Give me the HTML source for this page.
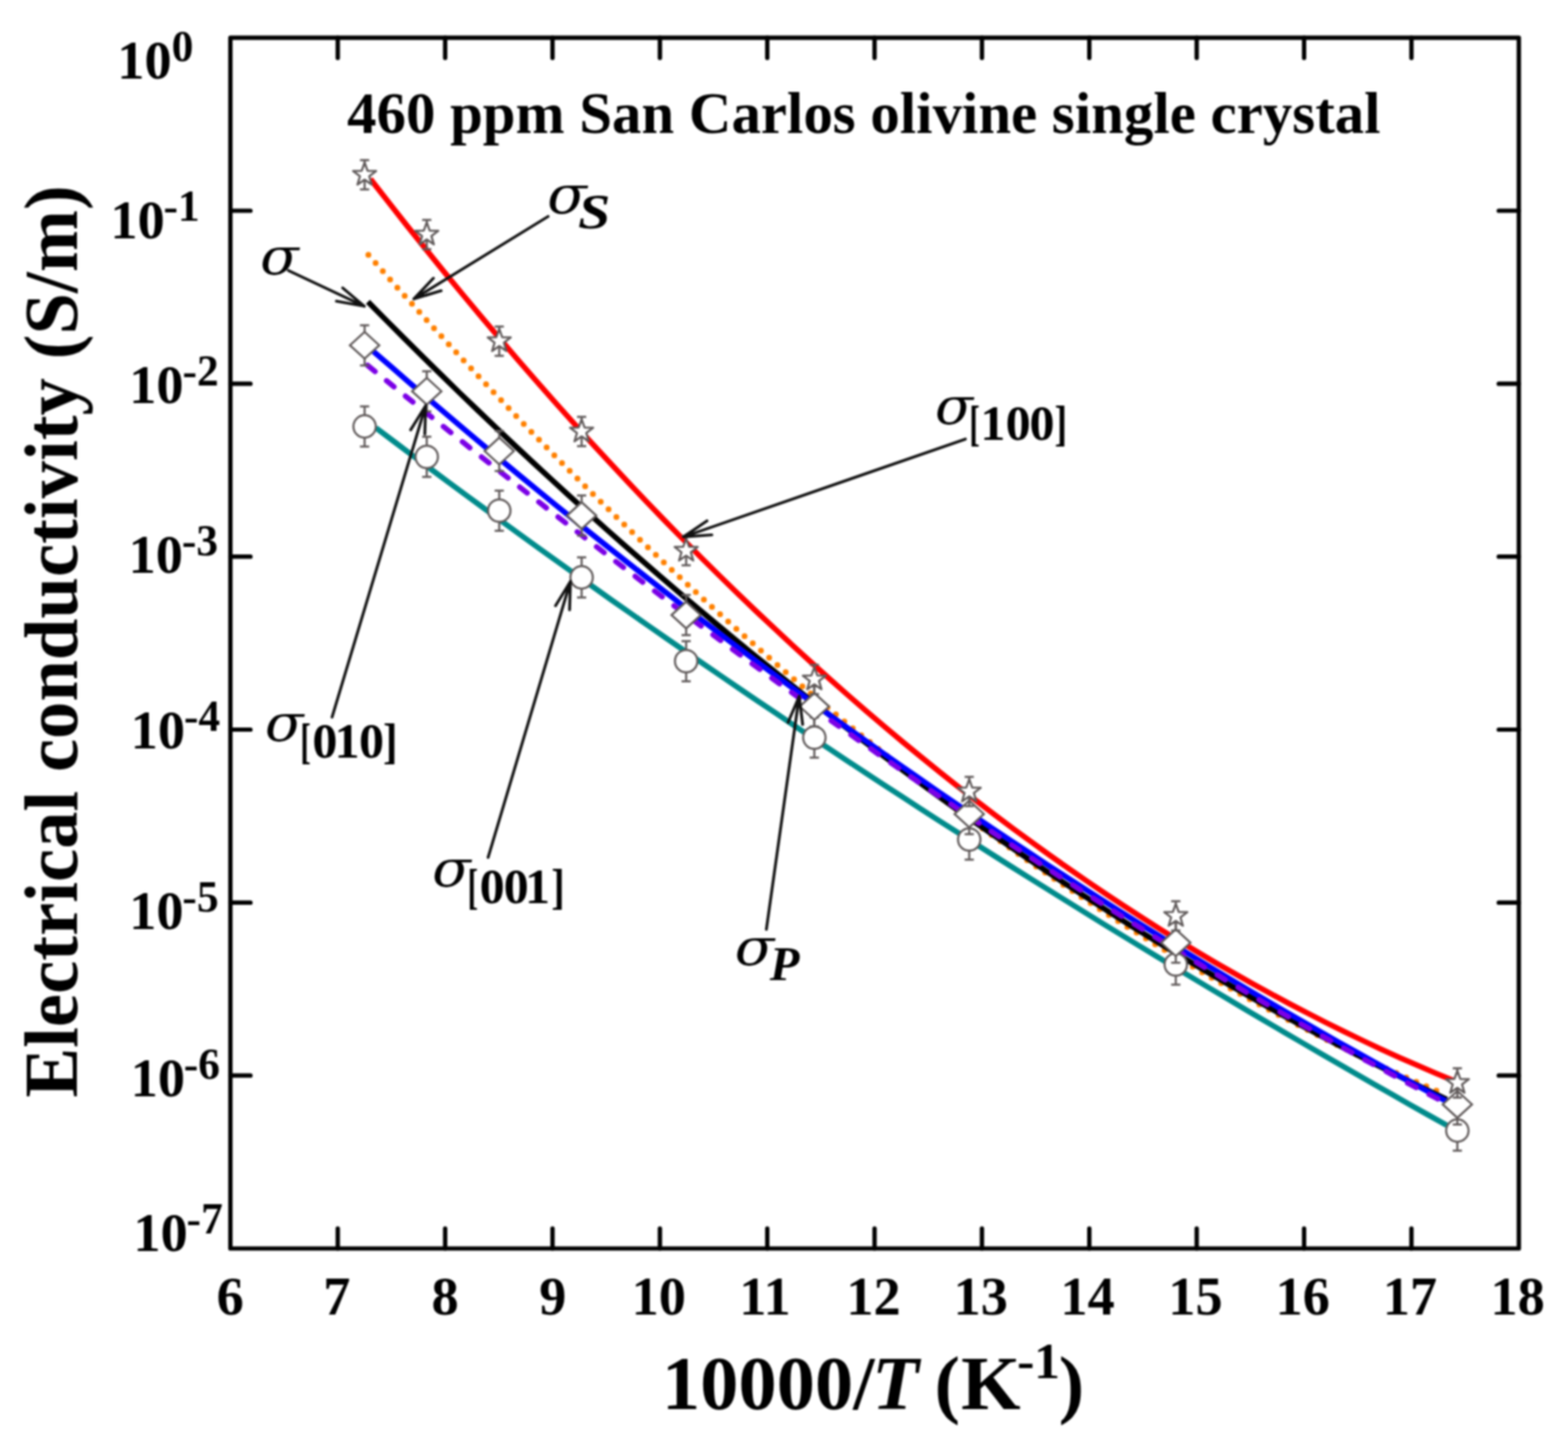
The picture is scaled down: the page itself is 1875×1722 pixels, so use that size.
<!DOCTYPE html><html><head><meta charset="utf-8"><style>html,body{margin:0;padding:0;background:#fff;}svg{display:block}#w{filter:blur(1px)}</style></head><body><div id="w"><svg width="1875" height="1722" viewBox="0 0 1875 1722">
<rect x="0" y="0" width="1875" height="1722" fill="#fff"/>
<path d="M449.5,511.7 L471.2,528.0 L492.9,544.3 L514.6,560.5 L536.3,576.6 L558.0,592.6 L579.7,608.5 L601.4,624.3 L623.1,640.1 L644.8,655.8 L666.5,671.4 L688.2,686.9 L709.9,702.3 L731.6,717.7 L753.3,732.9 L775.1,748.1 L796.8,763.2 L818.5,778.3 L840.2,793.2 L861.9,808.1 L883.6,822.9 L905.3,837.7 L927.0,852.3 L948.7,866.9 L970.4,881.4 L992.1,895.8 L1013.8,910.2 L1035.5,924.5 L1057.2,938.7 L1078.9,952.8 L1100.6,966.9 L1122.3,980.9 L1144.0,994.8 L1165.7,1008.6 L1187.4,1022.4 L1209.1,1036.1 L1230.8,1049.8 L1252.5,1063.3 L1274.2,1076.8 L1295.9,1090.3 L1317.6,1103.7 L1339.3,1117.0 L1361.0,1130.2 L1382.7,1143.4 L1404.4,1156.5 L1426.2,1169.5 L1447.9,1182.5 L1469.6,1195.4 L1491.3,1208.3 L1513.0,1221.1 L1534.7,1233.8 L1556.4,1246.5 L1578.1,1259.1 L1599.8,1271.7 L1621.5,1284.1 L1643.2,1296.6 L1664.9,1308.9 L1686.6,1321.3 L1708.3,1333.5 L1730.0,1345.7" fill="none" stroke="#008b8b" stroke-width="6.6" stroke-linejoin="round"/>
<path d="M443.0,214.1 L465.0,242.3 L486.9,270.1 L508.9,297.6 L530.9,324.8 L552.8,351.5 L574.8,377.9 L596.8,403.9 L618.7,429.6 L640.7,454.9 L662.7,479.9 L684.6,504.4 L706.6,528.7 L728.6,552.6 L750.5,576.1 L772.5,599.3 L794.5,622.1 L816.4,644.5 L838.4,666.7 L860.4,688.5 L882.3,709.9 L904.3,731.0 L926.3,751.7 L948.2,772.1 L970.2,792.2 L992.2,812.0 L1014.1,831.4 L1036.1,850.4 L1058.1,869.2 L1080.0,887.6 L1102.0,905.6 L1123.9,923.4 L1145.9,940.8 L1167.9,957.9 L1189.8,974.6 L1211.8,991.1 L1233.8,1007.2 L1255.7,1023.0 L1277.7,1038.5 L1299.7,1053.6 L1321.6,1068.5 L1343.6,1083.0 L1365.6,1097.3 L1387.5,1111.2 L1409.5,1124.8 L1431.5,1138.1 L1453.4,1151.1 L1475.4,1163.7 L1497.4,1176.1 L1519.3,1188.2 L1541.3,1200.0 L1563.3,1211.4 L1585.2,1222.6 L1607.2,1233.5 L1629.2,1244.1 L1651.1,1254.4 L1673.1,1264.4 L1695.1,1274.1 L1717.0,1283.5 L1739.0,1292.6" fill="none" stroke="#ff0000" stroke-width="6.6" stroke-linejoin="round"/>
<path d="M439.2,303.2 L461.0,328.0 L482.8,352.4 L504.6,376.7 L526.4,400.6 L548.2,424.3 L570.0,447.7 L591.8,470.8 L613.5,493.7 L635.3,516.3 L657.1,538.6 L678.9,560.7 L700.7,582.5 L722.5,604.0 L744.3,625.2 L766.1,646.2 L787.9,666.9 L809.7,687.4 L831.5,707.6 L853.3,727.5 L875.1,747.2 L896.9,766.5 L918.7,785.7 L940.4,804.5 L962.2,823.1 L984.0,841.4 L1005.8,859.5 L1027.6,877.3 L1049.4,894.8 L1071.2,912.1 L1093.0,929.1 L1114.8,945.8 L1136.6,962.3 L1158.4,978.5 L1180.2,994.4 L1202.0,1010.1 L1223.8,1025.5 L1245.5,1040.6 L1267.3,1055.5 L1289.1,1070.1 L1310.9,1084.5 L1332.7,1098.6 L1354.5,1112.4 L1376.3,1126.0 L1398.1,1139.3 L1419.9,1152.3 L1441.7,1165.1 L1463.5,1177.6 L1485.3,1189.9 L1507.1,1201.8 L1528.9,1213.6 L1550.7,1225.0 L1572.4,1236.3 L1594.2,1247.2 L1616.0,1257.9 L1637.8,1268.3 L1659.6,1278.5 L1681.4,1288.4 L1703.2,1298.0 L1725.0,1307.4" fill="none" stroke="#ff8000" stroke-width="7" stroke-dasharray="0 13.08" stroke-dashoffset="-2" stroke-linecap="round" stroke-linejoin="round"/>
<path d="M440.0,360.9 L461.9,383.0 L483.7,404.9 L505.6,426.7 L527.5,448.2 L549.3,469.5 L571.2,490.5 L593.1,511.4 L614.9,532.0 L636.8,552.5 L658.6,572.7 L680.5,592.7 L702.4,612.5 L724.2,632.1 L746.1,651.4 L768.0,670.6 L789.8,689.5 L811.7,708.3 L833.6,726.8 L855.4,745.1 L877.3,763.3 L899.2,781.2 L921.0,798.9 L942.9,816.4 L964.7,833.7 L986.6,850.8 L1008.5,867.7 L1030.3,884.3 L1052.2,900.8 L1074.1,917.1 L1095.9,933.2 L1117.8,949.1 L1139.7,964.8 L1161.5,980.2 L1183.4,995.5 L1205.3,1010.6 L1227.1,1025.5 L1249.0,1040.2 L1270.8,1054.7 L1292.7,1069.0 L1314.6,1083.1 L1336.4,1097.0 L1358.3,1110.7 L1380.2,1124.2 L1402.0,1137.5 L1423.9,1150.7 L1445.8,1163.6 L1467.6,1176.4 L1489.5,1188.9 L1511.4,1201.3 L1533.2,1213.5 L1555.1,1225.5 L1576.9,1237.3 L1598.8,1248.9 L1620.7,1260.3 L1642.5,1271.6 L1664.4,1282.6 L1686.3,1293.5 L1708.1,1304.2 L1730.0,1314.7" fill="none" stroke="#000" stroke-width="6.6" stroke-linecap="butt" stroke-linejoin="round"/>
<path d="M446.5,420.2 L468.3,439.1 L490.0,457.9 L511.8,476.6 L533.5,495.1 L555.3,513.5 L577.0,531.8 L598.8,549.9 L620.5,567.9 L642.3,585.8 L664.0,603.5 L685.8,621.1 L707.6,638.6 L729.3,655.9 L751.1,673.1 L772.8,690.2 L794.6,707.2 L816.3,724.0 L838.1,740.6 L859.8,757.2 L881.6,773.6 L903.3,789.9 L925.1,806.1 L946.8,822.1 L968.6,838.0 L990.4,853.8 L1012.1,869.5 L1033.9,885.0 L1055.6,900.4 L1077.4,915.7 L1099.1,930.8 L1120.9,945.9 L1142.6,960.8 L1164.4,975.5 L1186.1,990.2 L1207.9,1004.7 L1229.7,1019.1 L1251.4,1033.4 L1273.2,1047.6 L1294.9,1061.6 L1316.7,1075.5 L1338.4,1089.3 L1360.2,1103.0 L1381.9,1116.5 L1403.7,1130.0 L1425.4,1143.3 L1447.2,1156.5 L1468.9,1169.5 L1490.7,1182.5 L1512.5,1195.3 L1534.2,1208.1 L1556.0,1220.6 L1577.7,1233.1 L1599.5,1245.5 L1621.2,1257.7 L1643.0,1269.9 L1664.7,1281.9 L1686.5,1293.8 L1708.2,1305.6 L1730.0,1317.2" fill="none" stroke="#0000ff" stroke-width="6.6" stroke-linejoin="round"/>
<path d="M437.5,435.2 L459.4,453.0 L481.3,470.8 L503.2,488.4 L525.1,506.0 L547.0,523.5 L568.9,541.0 L590.8,558.3 L612.8,575.6 L634.7,592.8 L656.6,609.9 L678.5,626.9 L700.4,643.9 L722.3,660.7 L744.2,677.5 L766.1,694.2 L788.0,710.8 L809.9,727.3 L831.8,743.7 L853.7,760.0 L875.6,776.2 L897.5,792.3 L919.4,808.3 L941.4,824.2 L963.3,840.0 L985.2,855.7 L1007.1,871.3 L1029.0,886.8 L1050.9,902.2 L1072.8,917.5 L1094.7,932.7 L1116.6,947.8 L1138.5,962.7 L1160.4,977.6 L1182.3,992.3 L1204.2,1006.9 L1226.1,1021.4 L1248.1,1035.8 L1270.0,1050.1 L1291.9,1064.2 L1313.8,1078.2 L1335.7,1092.1 L1357.6,1105.9 L1379.5,1119.5 L1401.4,1133.1 L1423.3,1146.5 L1445.2,1159.7 L1467.1,1172.8 L1489.0,1185.8 L1510.9,1198.7 L1532.8,1211.4 L1554.7,1224.0 L1576.7,1236.5 L1598.6,1248.8 L1620.5,1261.0 L1642.4,1273.0 L1664.3,1284.9 L1686.2,1296.7 L1708.1,1308.3 L1730.0,1319.8" fill="none" stroke="#7b00e6" stroke-width="6.4" stroke-dasharray="11.4 17.7" stroke-dashoffset="-2.8" stroke-linecap="round" stroke-linejoin="round"/>
<path d="M436.0,486.0 V534.0 M430.5,486.0 H441.5 M430.5,534.0 H441.5" stroke="#605a5a" stroke-width="2.5" fill="none"/>
<path d="M510.3,522.3 V570.3 M504.8,522.3 H515.8 M504.8,570.3 H515.8" stroke="#605a5a" stroke-width="2.5" fill="none"/>
<path d="M597.0,586.7 V634.7 M591.5,586.7 H602.5 M591.5,634.7 H602.5" stroke="#605a5a" stroke-width="2.5" fill="none"/>
<path d="M695.5,666.5 V714.5 M690.0,666.5 H701.0 M690.0,714.5 H701.0" stroke="#605a5a" stroke-width="2.5" fill="none"/>
<path d="M820.5,766.7 V814.7 M815.0,766.7 H826.0 M815.0,814.7 H826.0" stroke="#605a5a" stroke-width="2.5" fill="none"/>
<path d="M973.8,858.1 V906.1 M968.3,858.1 H979.3 M968.3,906.1 H979.3" stroke="#605a5a" stroke-width="2.5" fill="none"/>
<path d="M1159.0,979.9 V1027.9 M1153.5,979.9 H1164.5 M1153.5,1027.9 H1164.5" stroke="#605a5a" stroke-width="2.5" fill="none"/>
<path d="M1406.0,1129.4 V1177.4 M1400.5,1129.4 H1411.5 M1400.5,1177.4 H1411.5" stroke="#605a5a" stroke-width="2.5" fill="none"/>
<path d="M1742.7,1328.0 V1376.0 M1737.2,1328.0 H1748.2 M1737.2,1376.0 H1748.2" stroke="#605a5a" stroke-width="2.5" fill="none"/>
<circle cx="436.0" cy="510.0" r="13.4" fill="#fff" stroke="#605a5a" stroke-width="2.5"/>
<circle cx="510.3" cy="546.3" r="13.4" fill="#fff" stroke="#605a5a" stroke-width="2.5"/>
<circle cx="597.0" cy="610.7" r="13.4" fill="#fff" stroke="#605a5a" stroke-width="2.5"/>
<circle cx="695.5" cy="690.5" r="13.4" fill="#fff" stroke="#605a5a" stroke-width="2.5"/>
<circle cx="820.5" cy="790.7" r="13.4" fill="#fff" stroke="#605a5a" stroke-width="2.5"/>
<circle cx="973.8" cy="882.1" r="13.4" fill="#fff" stroke="#605a5a" stroke-width="2.5"/>
<circle cx="1159.0" cy="1003.9" r="13.4" fill="#fff" stroke="#605a5a" stroke-width="2.5"/>
<circle cx="1406.0" cy="1153.4" r="13.4" fill="#fff" stroke="#605a5a" stroke-width="2.5"/>
<circle cx="1742.7" cy="1352.0" r="13.4" fill="#fff" stroke="#605a5a" stroke-width="2.5"/>
<path d="M436.0,388.9 V436.9 M430.5,388.9 H441.5 M430.5,436.9 H441.5" stroke="#605a5a" stroke-width="2.5" fill="none"/>
<path d="M510.3,443.9 V491.9 M504.8,443.9 H515.8 M504.8,491.9 H515.8" stroke="#605a5a" stroke-width="2.5" fill="none"/>
<path d="M597.0,515.3 V563.3 M591.5,515.3 H602.5 M591.5,563.3 H602.5" stroke="#605a5a" stroke-width="2.5" fill="none"/>
<path d="M695.5,592.5 V640.5 M690.0,592.5 H701.0 M690.0,640.5 H701.0" stroke="#605a5a" stroke-width="2.5" fill="none"/>
<path d="M820.5,711.5 V759.5 M815.0,711.5 H826.0 M815.0,759.5 H826.0" stroke="#605a5a" stroke-width="2.5" fill="none"/>
<path d="M973.8,820.8 V868.8 M968.3,820.8 H979.3 M968.3,868.8 H979.3" stroke="#605a5a" stroke-width="2.5" fill="none"/>
<path d="M1159.0,949.4 V997.4 M1153.5,949.4 H1164.5 M1153.5,997.4 H1164.5" stroke="#605a5a" stroke-width="2.5" fill="none"/>
<path d="M1406.0,1103.3 V1151.3 M1400.5,1103.3 H1411.5 M1400.5,1151.3 H1411.5" stroke="#605a5a" stroke-width="2.5" fill="none"/>
<path d="M1742.7,1296.7 V1344.7 M1737.2,1296.7 H1748.2 M1737.2,1344.7 H1748.2" stroke="#605a5a" stroke-width="2.5" fill="none"/>
<polygon points="418.5,412.9 436.0,396.9 453.5,412.9 436.0,428.9" fill="#fff" stroke="#605a5a" stroke-width="2.5"/>
<polygon points="492.8,467.9 510.3,451.9 527.8,467.9 510.3,483.9" fill="#fff" stroke="#605a5a" stroke-width="2.5"/>
<polygon points="579.5,539.3 597.0,523.3 614.5,539.3 597.0,555.3" fill="#fff" stroke="#605a5a" stroke-width="2.5"/>
<polygon points="678.0,616.5 695.5,600.5 713.0,616.5 695.5,632.5" fill="#fff" stroke="#605a5a" stroke-width="2.5"/>
<polygon points="803.0,735.5 820.5,719.5 838.0,735.5 820.5,751.5" fill="#fff" stroke="#605a5a" stroke-width="2.5"/>
<polygon points="956.3,844.8 973.8,828.8 991.3,844.8 973.8,860.8" fill="#fff" stroke="#605a5a" stroke-width="2.5"/>
<polygon points="1141.5,973.4 1159.0,957.4 1176.5,973.4 1159.0,989.4" fill="#fff" stroke="#605a5a" stroke-width="2.5"/>
<polygon points="1388.5,1127.3 1406.0,1111.3 1423.5,1127.3 1406.0,1143.3" fill="#fff" stroke="#605a5a" stroke-width="2.5"/>
<polygon points="1725.2,1320.7 1742.7,1304.7 1760.2,1320.7 1742.7,1336.7" fill="#fff" stroke="#605a5a" stroke-width="2.5"/>
<path d="M436.0,191.5 V226.5 M430.5,191.5 H441.5 M430.5,226.5 H441.5" stroke="#605a5a" stroke-width="2.5" fill="none"/>
<path d="M510.3,263.0 V298.0 M504.8,263.0 H515.8 M504.8,298.0 H515.8" stroke="#605a5a" stroke-width="2.5" fill="none"/>
<path d="M597.0,390.5 V425.5 M591.5,390.5 H602.5 M591.5,425.5 H602.5" stroke="#605a5a" stroke-width="2.5" fill="none"/>
<path d="M695.5,498.5 V533.5 M690.0,498.5 H701.0 M690.0,533.5 H701.0" stroke="#605a5a" stroke-width="2.5" fill="none"/>
<path d="M820.5,641.1 V676.1 M815.0,641.1 H826.0 M815.0,676.1 H826.0" stroke="#605a5a" stroke-width="2.5" fill="none"/>
<path d="M973.8,795.0 V830.0 M968.3,795.0 H979.3 M968.3,830.0 H979.3" stroke="#605a5a" stroke-width="2.5" fill="none"/>
<path d="M1159.0,929.0 V964.0 M1153.5,929.0 H1164.5 M1153.5,964.0 H1164.5" stroke="#605a5a" stroke-width="2.5" fill="none"/>
<path d="M1406.0,1077.8 V1112.8 M1400.5,1077.8 H1411.5 M1400.5,1112.8 H1411.5" stroke="#605a5a" stroke-width="2.5" fill="none"/>
<path d="M1742.7,1277.5 V1312.5 M1737.2,1277.5 H1748.2 M1737.2,1312.5 H1748.2" stroke="#605a5a" stroke-width="2.5" fill="none"/>
<polygon points="436.0,194.5 439.5,204.2 449.8,204.5 441.6,210.8 444.5,220.7 436.0,214.9 427.5,220.7 430.4,210.8 422.2,204.5 432.5,204.2" fill="#fff" stroke="#605a5a" stroke-width="2.5" stroke-linejoin="round"/>
<polygon points="510.3,266.0 513.8,275.7 524.1,276.0 515.9,282.3 518.8,292.2 510.3,286.4 501.8,292.2 504.7,282.3 496.5,276.0 506.8,275.7" fill="#fff" stroke="#605a5a" stroke-width="2.5" stroke-linejoin="round"/>
<polygon points="597.0,393.5 600.5,403.2 610.8,403.5 602.6,409.8 605.5,419.7 597.0,413.9 588.5,419.7 591.4,409.8 583.2,403.5 593.5,403.2" fill="#fff" stroke="#605a5a" stroke-width="2.5" stroke-linejoin="round"/>
<polygon points="695.5,501.5 699.0,511.2 709.3,511.5 701.1,517.8 704.0,527.7 695.5,521.9 687.0,527.7 689.9,517.8 681.7,511.5 692.0,511.2" fill="#fff" stroke="#605a5a" stroke-width="2.5" stroke-linejoin="round"/>
<polygon points="820.5,644.1 824.0,653.8 834.3,654.1 826.1,660.4 829.0,670.3 820.5,664.5 812.0,670.3 814.9,660.4 806.7,654.1 817.0,653.8" fill="#fff" stroke="#605a5a" stroke-width="2.5" stroke-linejoin="round"/>
<polygon points="973.8,798.0 977.3,807.7 987.6,808.0 979.4,814.3 982.3,824.2 973.8,818.4 965.3,824.2 968.2,814.3 960.0,808.0 970.3,807.7" fill="#fff" stroke="#605a5a" stroke-width="2.5" stroke-linejoin="round"/>
<polygon points="1159.0,932.0 1162.5,941.7 1172.8,942.0 1164.6,948.3 1167.5,958.2 1159.0,952.4 1150.5,958.2 1153.4,948.3 1145.2,942.0 1155.5,941.7" fill="#fff" stroke="#605a5a" stroke-width="2.5" stroke-linejoin="round"/>
<polygon points="1406.0,1080.8 1409.5,1090.5 1419.8,1090.8 1411.6,1097.1 1414.5,1107.0 1406.0,1101.2 1397.5,1107.0 1400.4,1097.1 1392.2,1090.8 1402.5,1090.5" fill="#fff" stroke="#605a5a" stroke-width="2.5" stroke-linejoin="round"/>
<polygon points="1742.7,1280.5 1746.2,1290.2 1756.5,1290.5 1748.3,1296.8 1751.2,1306.7 1742.7,1300.9 1734.2,1306.7 1737.1,1296.8 1728.9,1290.5 1739.2,1290.2" fill="#fff" stroke="#605a5a" stroke-width="2.5" stroke-linejoin="round"/>
<path d="M344.8,323.5 L435.7,366.2 M409.7,344.3 L435.7,366.2 L402.2,360.2" stroke="#111" stroke-width="3.4" fill="none" stroke-linecap="round" stroke-linejoin="round"/>
<path d="M655.4,258.9 L494.9,357.4 M527.5,347.7 L494.9,357.4 L518.3,332.7" stroke="#111" stroke-width="3.4" fill="none" stroke-linecap="round" stroke-linejoin="round"/>
<path d="M1154.4,525.1 L817.3,642.0 M851.2,639.6 L817.3,642.0 L845.4,622.9" stroke="#111" stroke-width="3.4" fill="none" stroke-linecap="round" stroke-linejoin="round"/>
<path d="M397.1,857.6 L509.0,485.1 M491.1,514.0 L509.0,485.1 L508.0,519.1" stroke="#111" stroke-width="3.4" fill="none" stroke-linecap="round" stroke-linejoin="round"/>
<path d="M583.7,1025.3 L682.1,695.3 M664.3,724.3 L682.1,695.3 L681.1,729.3" stroke="#111" stroke-width="3.4" fill="none" stroke-linecap="round" stroke-linejoin="round"/>
<path d="M916.4,1111.4 L955.7,832.6 M942.4,863.9 L955.7,832.6 L959.8,866.3" stroke="#111" stroke-width="3.4" fill="none" stroke-linecap="round" stroke-linejoin="round"/>
<rect x="275.5" y="45.2" width="1540.7" height="1447.8" fill="none" stroke="#000" stroke-width="5.2" stroke-linejoin="round"/>
<path d="M403.9,1493.0 V1469.0 M403.9,45.2 V69.2 M532.3,1493.0 V1469.0 M532.3,45.2 V69.2 M660.7,1493.0 V1469.0 M660.7,45.2 V69.2 M789.1,1493.0 V1469.0 M789.1,45.2 V69.2 M917.5,1493.0 V1469.0 M917.5,45.2 V69.2 M1045.8,1493.0 V1469.0 M1045.8,45.2 V69.2 M1174.2,1493.0 V1469.0 M1174.2,45.2 V69.2 M1302.6,1493.0 V1469.0 M1302.6,45.2 V69.2 M1431.0,1493.0 V1469.0 M1431.0,45.2 V69.2 M1559.4,1493.0 V1469.0 M1559.4,45.2 V69.2 M1687.8,1493.0 V1469.0 M1687.8,45.2 V69.2 M275.5,1286.2 H299.5 M1816.2,1286.2 H1792.2 M275.5,1079.4 H299.5 M1816.2,1079.4 H1792.2 M275.5,872.5 H299.5 M1816.2,872.5 H1792.2 M275.5,665.7 H299.5 M1816.2,665.7 H1792.2 M275.5,458.9 H299.5 M1816.2,458.9 H1792.2 M275.5,252.0 H299.5 M1816.2,252.0 H1792.2" stroke="#000" stroke-width="5.2" fill="none" stroke-linecap="round"/>
<text x="415.0" y="158.8" font-family="'Liberation Serif', serif" font-size="70.4" font-weight="bold" font-style="normal">460 ppm San Carlos olivine single crystal</text>
<text x="259.1" y="1571.5" font-family="'Liberation Serif', serif" font-size="65.0" font-weight="bold" font-style="normal">6</text>
<text x="386.6" y="1571.5" font-family="'Liberation Serif', serif" font-size="65.0" font-weight="bold" font-style="normal">7</text>
<text x="516.0" y="1571.5" font-family="'Liberation Serif', serif" font-size="65.0" font-weight="bold" font-style="normal">8</text>
<text x="644.7" y="1571.5" font-family="'Liberation Serif', serif" font-size="65.0" font-weight="bold" font-style="normal">9</text>
<text x="755.2" y="1571.5" font-family="'Liberation Serif', serif" font-size="65.0" font-weight="bold" font-style="normal">10</text>
<text x="884.0" y="1571.5" font-family="'Liberation Serif', serif" font-size="65.0" font-weight="bold" font-style="normal">11</text>
<text x="1012.1" y="1571.5" font-family="'Liberation Serif', serif" font-size="65.0" font-weight="bold" font-style="normal">12</text>
<text x="1140.2" y="1571.5" font-family="'Liberation Serif', serif" font-size="65.0" font-weight="bold" font-style="normal">13</text>
<text x="1268.1" y="1571.5" font-family="'Liberation Serif', serif" font-size="65.0" font-weight="bold" font-style="normal">14</text>
<text x="1397.1" y="1571.5" font-family="'Liberation Serif', serif" font-size="65.0" font-weight="bold" font-style="normal">15</text>
<text x="1525.3" y="1571.5" font-family="'Liberation Serif', serif" font-size="65.0" font-weight="bold" font-style="normal">16</text>
<text x="1653.5" y="1571.5" font-family="'Liberation Serif', serif" font-size="65.0" font-weight="bold" font-style="normal">17</text>
<text x="1782.2" y="1571.5" font-family="'Liberation Serif', serif" font-size="65.0" font-weight="bold" font-style="normal">18</text>
<text x="140.2" y="93.8" font-family="'Liberation Serif', serif" font-size="65.0" font-weight="bold" font-style="normal">10</text>
<text x="205.2" y="72.8" font-family="'Liberation Serif', serif" font-size="52.0" font-weight="bold" font-style="normal">0</text>
<text x="131.9" y="285.0" font-family="'Liberation Serif', serif" font-size="65.0" font-weight="bold" font-style="normal">10</text>
<text x="195.5" y="264.0" font-family="'Liberation Serif', serif" font-size="52.0" font-weight="bold" font-style="normal">-1</text>
<text x="154.6" y="481.8" font-family="'Liberation Serif', serif" font-size="65.0" font-weight="bold" font-style="normal">10</text>
<text x="218.2" y="460.8" font-family="'Liberation Serif', serif" font-size="52.0" font-weight="bold" font-style="normal">-2</text>
<text x="153.8" y="685.3" font-family="'Liberation Serif', serif" font-size="65.0" font-weight="bold" font-style="normal">10</text>
<text x="217.4" y="664.3" font-family="'Liberation Serif', serif" font-size="52.0" font-weight="bold" font-style="normal">-3</text>
<text x="156.3" y="895.0" font-family="'Liberation Serif', serif" font-size="65.0" font-weight="bold" font-style="normal">10</text>
<text x="219.9" y="874.0" font-family="'Liberation Serif', serif" font-size="52.0" font-weight="bold" font-style="normal">-4</text>
<text x="154.5" y="1110.5" font-family="'Liberation Serif', serif" font-size="65.0" font-weight="bold" font-style="normal">10</text>
<text x="218.1" y="1089.5" font-family="'Liberation Serif', serif" font-size="52.0" font-weight="bold" font-style="normal">-5</text>
<text x="156.2" y="1310.8" font-family="'Liberation Serif', serif" font-size="65.0" font-weight="bold" font-style="normal">10</text>
<text x="219.8" y="1289.8" font-family="'Liberation Serif', serif" font-size="52.0" font-weight="bold" font-style="normal">-6</text>
<text x="159.5" y="1496.0" font-family="'Liberation Serif', serif" font-size="65.0" font-weight="bold" font-style="normal">10</text>
<text x="223.1" y="1475.0" font-family="'Liberation Serif', serif" font-size="52.0" font-weight="bold" font-style="normal">-7</text>
<text x="791.4" y="1684.5" font-family="'Liberation Serif', serif" font-size="91.5" font-weight="bold" font-style="normal">10000/</text>
<text x="1042.7" y="1684.5" font-family="'Liberation Serif', serif" font-size="91.5" font-weight="bold" font-style="italic">T</text>
<text x="1117.4" y="1684.5" font-family="'Liberation Serif', serif" font-size="91.5" font-weight="bold" font-style="normal">(</text>
<text x="1149.3" y="1684.5" font-family="'Liberation Serif', serif" font-size="91.5" font-weight="bold" font-style="normal">K</text>
<text x="1216.3" y="1647.6" font-family="'Liberation Serif', serif" font-size="62.0" font-weight="bold" font-style="normal">-</text>
<text x="1236.6" y="1647.6" font-family="'Liberation Serif', serif" font-size="62.0" font-weight="bold" font-style="normal">1</text>
<text x="1266.1" y="1684.5" font-family="'Liberation Serif', serif" font-size="91.5" font-weight="bold" font-style="normal">)</text>
<text transform="translate(92,1312.5) rotate(-90)" font-family="'Liberation Serif', serif" font-size="90" font-weight="bold" textLength="1091.0" lengthAdjust="spacingAndGlyphs">Electrical conductivity (S/m)</text>
<text transform="translate(311.1,327.7) scale(1.088,1)" font-family="'DejaVu Serif', serif" font-size="62.3" font-style="italic">σ</text>
<text transform="translate(654.2,254.8) scale(1.103,1)" font-family="'DejaVu Serif', serif" font-size="63.2" font-style="italic">σ</text>
<text transform="translate(691.2,273.2) scale(1.159,1)" font-family="'Liberation Serif', serif" font-size="60" font-weight="bold" font-style="italic">S</text>
<text transform="translate(1117.9,506.6) scale(1.077,1)" font-family="'DejaVu Serif', serif" font-size="62.1" font-style="italic">σ</text>
<text transform="translate(1159.1,525.6) scale(0.636,1)" font-family="'Liberation Serif', serif" font-size="60" font-weight="bold">[</text>
<text x="1172.2" y="525.6" font-family="'Liberation Serif', serif" font-size="60" font-weight="bold">1</text>
<text x="1202.6" y="525.6" font-family="'Liberation Serif', serif" font-size="60" font-weight="bold">0</text>
<text x="1230.9" y="525.6" font-family="'Liberation Serif', serif" font-size="60" font-weight="bold">0</text>
<text transform="translate(1261.1,525.6) scale(0.756,1)" font-family="'Liberation Serif', serif" font-size="60" font-weight="bold">]</text>
<text transform="translate(316.7,885.5) scale(1.092,1)" font-family="'DejaVu Serif', serif" font-size="62.1" font-style="italic">σ</text>
<text transform="translate(359.1,905.6) scale(0.636,1)" font-family="'Liberation Serif', serif" font-size="60" font-weight="bold">[</text>
<text x="373.6" y="905.6" font-family="'Liberation Serif', serif" font-size="60" font-weight="bold">0</text>
<text x="399.9" y="905.6" font-family="'Liberation Serif', serif" font-size="60" font-weight="bold">1</text>
<text x="429.2" y="905.6" font-family="'Liberation Serif', serif" font-size="60" font-weight="bold">0</text>
<text transform="translate(458.1,905.6) scale(0.876,1)" font-family="'Liberation Serif', serif" font-size="60" font-weight="bold">]</text>
<text transform="translate(516.7,1060.1) scale(1.112,1)" font-family="'DejaVu Serif', serif" font-size="61.0" font-style="italic">σ</text>
<text transform="translate(559.1,1080.3) scale(0.636,1)" font-family="'Liberation Serif', serif" font-size="60" font-weight="bold">[</text>
<text x="573.5" y="1080.3" font-family="'Liberation Serif', serif" font-size="60" font-weight="bold">0</text>
<text x="602.3" y="1080.3" font-family="'Liberation Serif', serif" font-size="60" font-weight="bold">0</text>
<text x="627.7" y="1080.3" font-family="'Liberation Serif', serif" font-size="60" font-weight="bold">1</text>
<text transform="translate(659.3,1080.3) scale(0.801,1)" font-family="'Liberation Serif', serif" font-size="60" font-weight="bold">]</text>
<text transform="translate(878.6,1153.8) scale(1.139,1)" font-family="'DejaVu Serif', serif" font-size="61.0" font-style="italic">σ</text>
<text x="920.5" y="1172.2" font-family="'Liberation Serif', serif" font-size="58.0" font-weight="bold" font-style="italic">P</text>
</svg></div></body></html>
